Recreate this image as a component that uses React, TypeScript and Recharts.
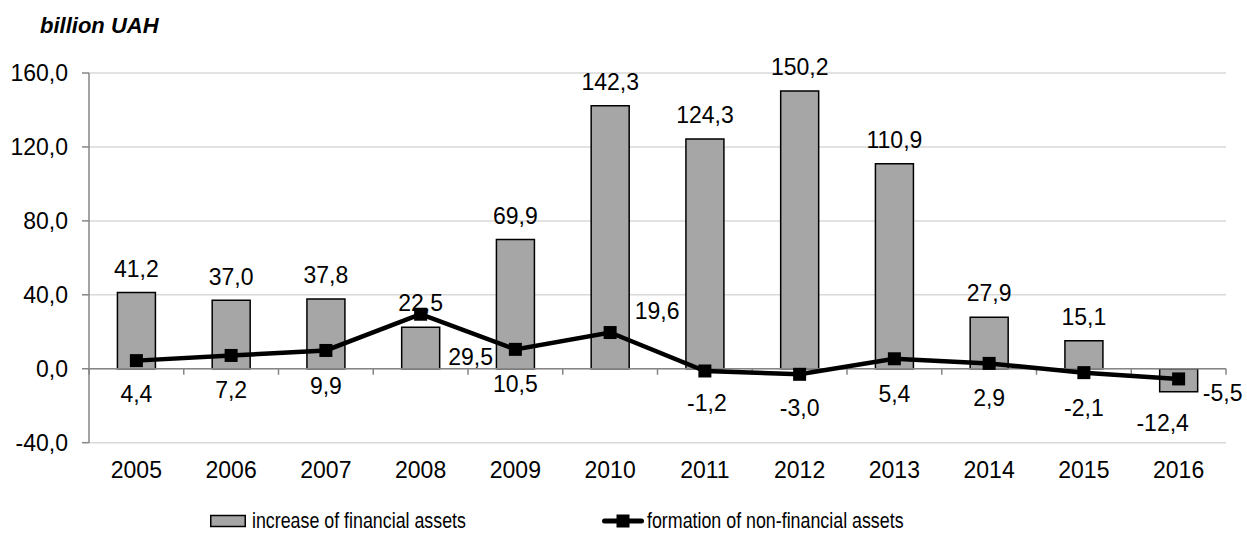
import React from 'react';
import {
  ComposedChart,
  Bar,
  Line,
  XAxis,
  YAxis,
  CartesianGrid,
  ReferenceLine,
  LabelList,
  Legend,
} from 'recharts';

// ---------- data ----------
const years = ['2005', '2006', '2007', '2008', '2009', '2010', '2011', '2012', '2013', '2014', '2015', '2016'];
const financialAssets = [41.2, 37.0, 37.8, 22.5, 69.9, 142.3, 124.3, 150.2, 110.9, 27.9, 15.1, -12.4];
const nonFinancialAssets = [4.4, 7.2, 9.9, 29.5, 10.5, 19.6, -1.2, -3.0, 5.4, 2.9, -2.1, -5.5];
const yTicks = [-40, 0, 40, 80, 120, 160];
const seriesNames = ['increase of financial assets', 'formation of non-financial assets'];
const unitTitle = 'billion UAH';

// ---------- label layout (not data) ----------
const LINE_LABEL_OFFSETS: Array<[number, number]> = [
  [0, 33], [0, 34], [0, 35], [50, 43], [0, 34], [47, -22],
  [2, 32], [0, 33], [0, 35], [0, 34], [0, 35], [44, 14],
];
const BAR_LABEL_DX = [0, 0, 0, 0, 0, 0, 0, 0, 0, 0, 0, -16];

const data = years.map((year, i) => ({
  year,
  fin: financialAssets[i],
  nonfin: nonFinancialAssets[i],
}));

const FONT = '"Liberation Sans", Arial, sans-serif';
const FS = 23;
const LEGEND_FS = 22;
const fmt = (v: number) => v.toFixed(1).replace('.', ',');

const pick = (props: any) => {
  const vb = props.viewBox || {};
  return {
    x: props.x ?? vb.x,
    y: props.y ?? vb.y,
    w: props.width ?? vb.width ?? 0,
    h: props.height ?? vb.height ?? 0,
  };
};

const BarLabel = (props: any) => {
  const { index } = props;
  const v = financialAssets[index];
  const { x, y, w, h } = pick(props);
  const top = Math.min(y, y + h);
  const bottom = Math.max(y, y + h);
  const cx = x + w / 2 + BAR_LABEL_DX[index];
  const cy = v >= 0 ? top - 24 : bottom + 31;
  return (
    <text x={cx} y={cy + 0.358 * FS} textAnchor="middle" fontSize={FS} fontFamily={FONT} fill="#000">
      {fmt(v)}
    </text>
  );
};

const LineLabel = (props: any) => {
  const { index } = props;
  const v = nonFinancialAssets[index];
  const { x, y } = pick(props);
  const [dx, dy] = LINE_LABEL_OFFSETS[index];
  return (
    <text x={x + dx} y={y + dy + 0.358 * FS} textAnchor="middle" fontSize={FS} fontFamily={FONT} fill="#000">
      {fmt(v)}
    </text>
  );
};

const SquareDot = (props: any) => {
  const { cx, cy, index } = props;
  if (cx == null || cy == null) return <g key={`d${index}`} />;
  return <rect key={`d${index}`} x={cx - 6.5} y={cy - 6.5} width={13} height={13} fill="#000" />;
};

const ZeroAxis = (props: any) => {
  const { x1, x2, y1 } = props;
  const n = years.length;
  const ticks = Array.from({ length: n + 1 }, (_, i) => x1 + ((x2 - x1) * i) / n);
  return (
    <g>
      <line x1={x1} x2={x2} y1={y1} y2={y1} stroke="#868686" strokeWidth={1.5} />
      {ticks.map((tx, i) => (
        <line key={i} x1={tx} x2={tx} y1={y1} y2={y1 + 6} stroke="#868686" strokeWidth={1.5} />
      ))}
    </g>
  );
};

const narrow: React.CSSProperties = {
  display: 'inline-block',
  transform: 'scaleX(0.81)',
  transformOrigin: 'left center',
};

const renderLegend = () => (
  <div
    style={{
      position: 'relative',
      width: 1247,
      height: 26,
      fontFamily: FONT,
      fontSize: LEGEND_FS,
      lineHeight: '26px',
      color: '#000',
    }}
  >
    <div style={{ position: 'absolute', left: 210, top: 0, display: 'flex', alignItems: 'center', whiteSpace: 'nowrap' }}>
      <svg width={36} height={26} style={{ display: 'block' }}>
        <rect x={0.75} y={7.5} width={34.5} height={11} fill="#a6a6a6" stroke="#000" strokeWidth={1.5} />
      </svg>
      <span style={{ marginLeft: 6, ...narrow }}>{seriesNames[0]}</span>
    </div>
    <div style={{ position: 'absolute', left: 602, top: 0, display: 'flex', alignItems: 'center', whiteSpace: 'nowrap' }}>
      <svg width={42} height={26} style={{ display: 'block' }}>
        <line x1={2.5} x2={39.5} y1={13} y2={13} stroke="#000" strokeWidth={5} strokeLinecap="round" />
        <rect x={14.5} y={6.5} width={13} height={13} fill="#000" />
      </svg>
      <span style={{ marginLeft: 3, ...narrow }}>{seriesNames[1]}</span>
    </div>
  </div>
);

export default function App() {
  return (
    <div style={{ position: 'absolute', left: 0, top: 0, width: 1247, height: 560, background: '#fff' }}>
      <div
        style={{
          position: 'absolute',
          left: 40,
          top: 15,
          fontFamily: FONT,
          fontSize: 22,
          lineHeight: '22px',
          fontWeight: 'bold',
          fontStyle: 'italic',
          color: '#000',
          whiteSpace: 'nowrap',
          zIndex: 2,
        }}
      >
        {unitTitle}
      </div>
      <ComposedChart
        width={1247}
        height={560}
        data={data}
        margin={{ top: 73, right: 21, bottom: 61.3, left: 9 }}
        barCategoryGap="30%"
      >
        <CartesianGrid vertical={false} stroke="#d9d9d9" strokeWidth={1.5} />
        <XAxis
          dataKey="year"
          axisLine={false}
          tickLine={false}
          tickSize={0}
          tickMargin={19}
          height={30}
          interval={0}
          tick={{ fontSize: FS, fontFamily: FONT, fill: '#000' }}
        />
        <YAxis
          domain={[-40, 160]}
          ticks={yTicks}
          allowDataOverflow
          width={80}
          axisLine={{ stroke: '#868686', strokeWidth: 1.5 }}
          tickLine={{ stroke: '#868686', strokeWidth: 1.5 }}
          tickSize={7}
          tickMargin={14}
          tickFormatter={(v: number) => fmt(v)}
          tick={{ fontSize: FS, fontFamily: FONT, fill: '#000' }}
        />
        <ReferenceLine y={0} shape={ZeroAxis} />
        <Bar
          dataKey="fin"
          name={seriesNames[0]}
          fill="#a6a6a6"
          stroke="#000"
          strokeWidth={1.5}
          isAnimationActive={false}
        >
          <LabelList dataKey="fin" content={BarLabel} />
        </Bar>
        <Line
          dataKey="nonfin"
          name={seriesNames[1]}
          stroke="#000"
          strokeWidth={4.5}
          dot={SquareDot}
          activeDot={false}
          isAnimationActive={false}
        >
          <LabelList dataKey="nonfin" content={LineLabel} />
        </Line>
        <Legend
          content={renderLegend}
          verticalAlign="bottom"
          wrapperStyle={{ position: 'absolute', top: 508, left: 0, width: 1247, height: 26 }}
        />
      </ComposedChart>
    </div>
  );
}
